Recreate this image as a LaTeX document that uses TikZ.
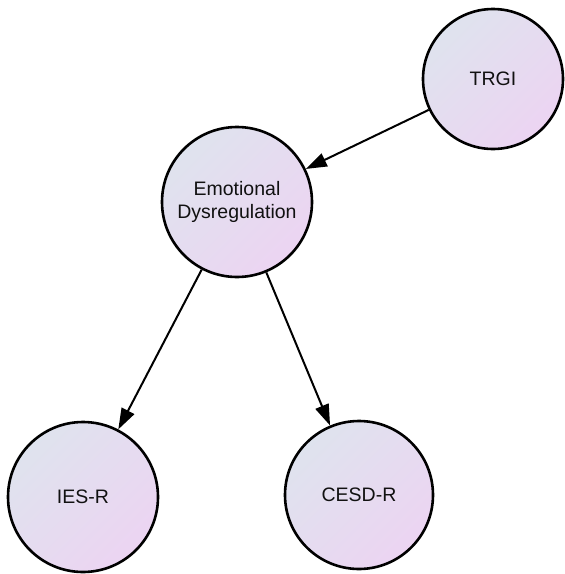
\documentclass[tikz,border=0pt]{standalone}
\usepackage{fontspec}
\setmainfont{Liberation Sans}
\usetikzlibrary{arrows.meta}
\definecolor{fillA}{HTML}{DFE3EE}
\definecolor{fillB}{HTML}{ECD4F2}
\definecolor{inkc}{HTML}{111111}
\begin{document}
\begin{tikzpicture}[x=1pt,y=-1pt,
  var/.style={circle, draw=black, line width=2.6pt, minimum size=#1,
    inner sep=0pt, top color=fillA, bottom color=fillB, shading angle=45,
    align=center, text=inkc, font=\fontsize{19.5}{23}\selectfont},
  link/.style={line width=2pt, -{Triangle[length=21pt,width=14pt]}}]
  \useasboundingbox (0,0) rectangle (565,574);
  \node[var=140pt] (trgi) at (493,79) {TRGI};
  \node[var=150pt] (ed) at (237,202) {Emotional\\Dysregulation};
  \node[var=150pt] (ies) at (83,497) {IES-R};
  \node[var=148pt] (cesd) at (359,495) {CESD-R};
  \draw[link] (trgi) -- (ed);
  \draw[link] (ed) -- (ies);
  \draw[link] (ed) -- (cesd);
\end{tikzpicture}
\end{document}
